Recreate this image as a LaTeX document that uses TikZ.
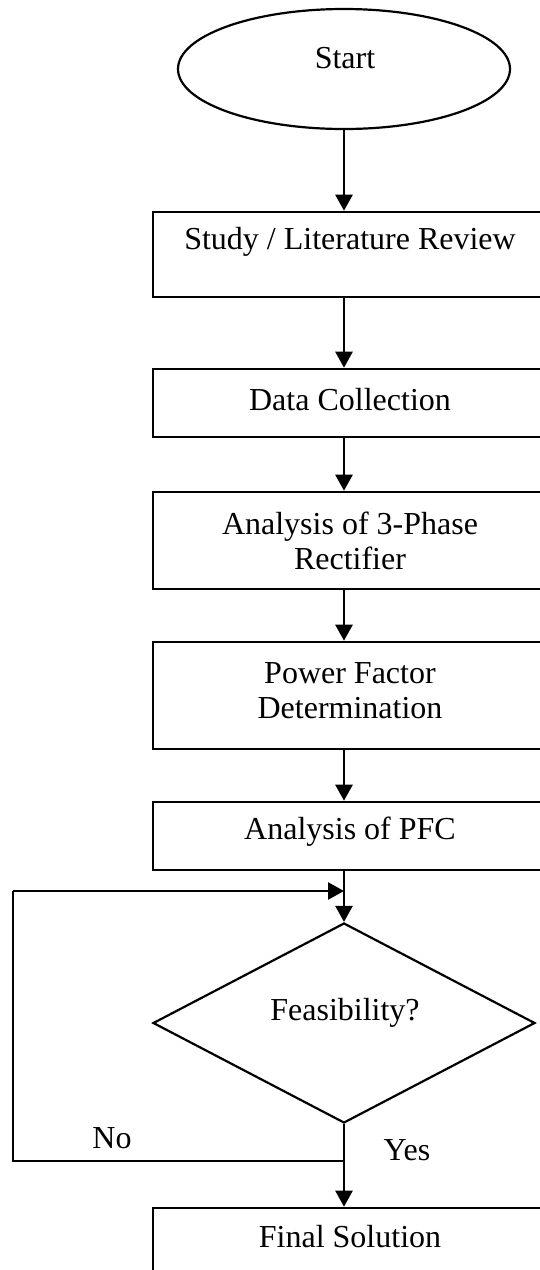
\documentclass[tikz,border=0pt]{standalone}
\usepackage{fontspec}
\setmainfont{Liberation Serif}
\usetikzlibrary{shapes.geometric,arrows.meta}
\begin{document}
\begin{tikzpicture}[x=0.5pt,y=-0.5pt,
  every node/.style={font=\fontsize{16}{17.5}\selectfont},
  boxnode/.style={draw,line width=1.3pt,rectangle,minimum width=197pt,inner sep=0pt},
  txt/.style={inner sep=0pt,align=center},
  conn/.style={line width=1.3pt,-{Triangle[width=8.5pt,length=8pt]}},
  plain/.style={line width=1.3pt}]
\useasboundingbox (0,0) rectangle (540,1270);
\clip (0,0) rectangle (540,1270);
\node[draw,ellipse,line width=1.1pt,minimum width=166pt,minimum height=60pt,inner sep=0pt] (start) at (344,69) {};
\node[txt] (tstart) at (345,58) {Start};
\node[boxnode,minimum height=42.5pt] (s1) at (350,254.5) {};
\node[txt] (t1) at (350,242) {Study / Literature Review};
\node[boxnode,minimum height=34pt] (s2) at (350,403) {};
\node[txt] (t2) at (350,400) {Data Collection};
\node[boxnode,minimum height=48.5pt] (s3) at (350,540.5) {};
\node[txt] (t3) at (350,540.5) {Analysis of 3-Phase\\Rectifier};
\node[boxnode,minimum height=53.5pt] (s4) at (350,695.5) {};
\node[txt] (t4) at (350,690.5) {Power Factor\\Determination};
\node[boxnode,minimum height=34pt] (s5) at (350,836) {};
\node[txt] (t5) at (350,832) {Analysis of PFC};
\node[draw,diamond,line width=1.1pt,minimum width=191pt,minimum height=100pt,inner sep=0pt] (dec) at (344,1023) {};
\node[txt] (td) at (345,1013) {Feasibility?};
\node[boxnode,minimum height=45pt] (fin) at (350,1253) {};
\node[txt] (tf) at (350,1237) {Final Solution};
\node[txt] (yes) at (407,1150) {Yes};
\node[txt] (no) at (112,1138) {No};
\coordinate (m) at (344,891);
\coordinate (j) at (344,1161);
\coordinate (lb) at (13,1161);
\coordinate (lt) at (13,891);
\draw[conn] (start.south) -- (start.south |- s1.north);
\draw[conn] (start.south |- s1.south) -- (start.south |- s2.north);
\draw[conn] (start.south |- s2.south) -- (start.south |- s3.north);
\draw[conn] (start.south |- s3.south) -- (start.south |- s4.north);
\draw[conn] (start.south |- s4.south) -- (start.south |- s5.north);
\draw[conn] (start.south |- s5.south) -- (dec.north);
\draw[conn] (dec.south) -- (dec.south |- fin.north);
\draw[plain] (j) -- (lb) -- (lt);
\draw[conn] (lt) -- (m);
\end{tikzpicture}
\end{document}
